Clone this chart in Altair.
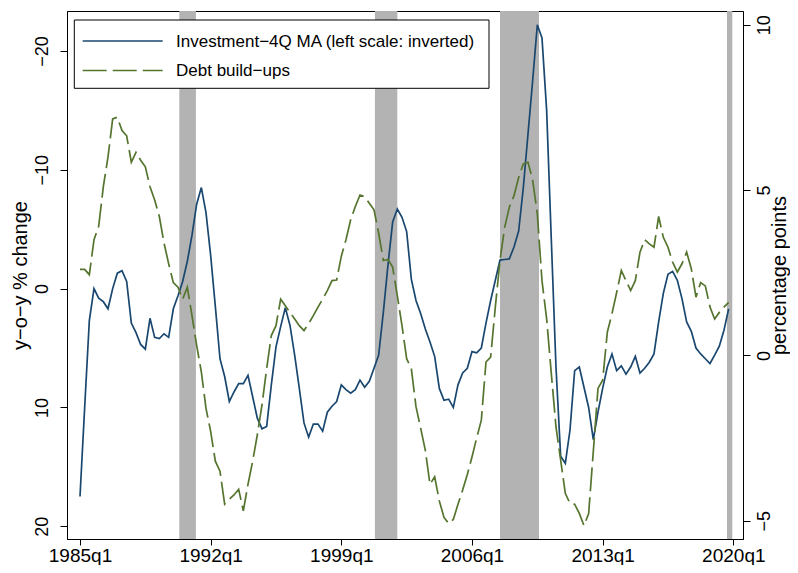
import altair as alt
import pandas as pd

# ---- data (quarterly, 1985q1 .. 2019q4) ----
start_year = 1985
investment_4q_ma = [
    17.5, 10.0, 2.7, 0.0, 0.8, 1.1, 1.7, 0.0, -1.3, -1.5,
    -0.6, 2.9, 3.7, 4.7, 5.1, 2.5, 4.1, 4.2, 3.8, 4.1,
    1.7, 0.6, -0.6, -2.3, -4.5, -7.1, -8.5, -6.4, -2.8, 1.5,
    5.9, 7.4, 9.5, 8.7, 8.0, 8.0, 7.3, 9.1, 10.9, 11.8,
    11.6, 8.1, 4.9, 3.2, 1.6, 3.1, 5.6, 8.4, 11.3, 12.5,
    11.4, 11.4, 12.0, 10.4, 9.9, 9.5, 8.1, 8.5, 8.8, 8.5,
    7.7, 8.3, 7.8, 6.7, 5.6, 2.0, -2.0, -5.6, -6.7, -6.0,
    -4.8, -0.8, 1.0, 2.1, 3.4, 4.5, 5.7, 8.4, 9.4, 9.3,
    10.0, 8.1, 7.1, 6.7, 5.3, 5.4, 5.0, 2.9, 1.0, -0.7,
    -2.4, -2.45, -2.5, -3.5, -4.85, -8.5, -13.0, -17.5, -22.2, -21.1,
    -15.0, -4.1, 6.6, 14.1, 14.7, 11.9, 6.9, 6.6, 8.3, 10.0,
    12.7, 10.4, 8.4, 6.6, 5.5, 6.9, 6.5, 7.2, 6.6, 5.7,
    7.1, 6.7, 6.2, 5.5, 2.8, 0.4, -1.2, -1.45, -0.7, 0.84,
    2.8, 3.6, 5.0, 5.5, 5.9, 6.3, 5.6, 4.85, 3.5, 1.7,
]
debt_buildups = [
    2.6, 2.6, 2.44, 3.5, 3.9, 5.1, 6.0, 7.15, 7.2, 6.8,
    6.64, 5.84, 6.14, 5.9, 5.7, 5.1, 4.7, 4.2, 3.4, 2.77,
    2.2, 2.06, 1.7, 2.06, 1.2, 0.3, -0.5, -1.6, -2.3, -3.2,
    -3.5, -4.5, -4.35, -4.22, -4.05, -4.7, -3.9, -3.2, -2.4, -1.5,
    -0.4, 0.6, 0.9, 1.7, 1.5, 1.3, 1.1, 0.9, 0.75, 0.96,
    1.2, 1.46, 1.7, 1.96, 2.26, 2.28, 3.0, 3.5, 4.1, 4.5,
    4.85, 4.8, 4.6, 4.4, 3.7, 2.87, 2.9, 2.67, 1.8, 0.9,
    -0.1, -0.4, -1.55, -2.2, -2.87, -3.9, -3.67, -4.4, -4.9, -5.08,
    -4.96, -4.5, -4.07, -3.6, -3.07, -2.5, -1.96, -0.2, -0.05, 1.46,
    2.87, 3.87, 4.48, 4.83, 5.38, 5.79, 5.84, 5.3, 4.28, 2.26,
    1.1, -0.55, -2.16, -3.17, -4.17, -4.48, -4.5, -4.78, -5.15, -4.78,
    -2.9, -1.0, -0.75, 0.7, 1.26, 1.9, 2.57, 2.26, 1.96, 2.26,
    3.12, 3.5, 3.37, 3.27, 4.2, 3.57, 3.27, 2.82, 2.52, 2.77,
    3.12, 2.62, 1.76, 2.2, 2.1, 1.46, 1.1, 1.3, 1.46, 1.6,
]
recession_start = [1990.32, 2000.80, 2007.50, 2019.66]
recession_end = [1991.21, 2002.00, 2009.59, 2019.945]
x_tick_years = [1985, 1992, 1999, 2006, 2013, 2020]
left_ticks = [-20, -10, 0, 10, 20]
right_ticks = [-5, 0, 5, 10]

INV = "Investment\u22124Q MA (left scale: inverted)"
DEBT = "Debt build\u2212ups"

BLUE = "#1a476f"
GREEN = "#55752f"
GREY = "#b3b3b3"
FONT = "Liberation Sans"

t = [start_year + i / 4 for i in range(len(investment_4q_ma))]
inv_df = pd.DataFrame({"t": t, "value": investment_4q_ma})
debt_df = pd.DataFrame({"t": t[: len(debt_buildups)], "value": debt_buildups})
rec_df = pd.DataFrame({"start": recession_start, "end": recession_end})
one = pd.DataFrame({"k": [0]})

W, H = 676, 528

xscale = alt.Scale(domain=[1984.3036, 2020.519], nice=False, zero=False)
xaxis = alt.Axis(
    values=x_tick_years,
    labelExpr="datum.value + 'q1'",
    tickSize=6,
    labelFontSize=19,
    labelPadding=1,
    labelFlush=False,
    labelOverlap=False,
    grid=False,
    title=None,
)

bars = alt.Chart(rec_df).mark_rect(color=GREY).encode(
    x=alt.X("start:Q", scale=xscale, axis=xaxis),
    x2="end:Q",
)

inv_line = alt.Chart(inv_df).mark_line(color=BLUE, strokeWidth=1.7).encode(
    x=alt.X("t:Q", scale=xscale, axis=xaxis),
    y=alt.Y(
        "value:Q",
        scale=alt.Scale(domain=[-23.36, 21.07], reverse=True, nice=False, zero=False),
        axis=alt.Axis(
            orient="left",
            values=left_ticks,
            tickSize=7,
            labelAngle=270,
            labelAlign="center",
            labelBaseline="middle",
            labelPadding=18,
            labelFontSize=18,
            labelFlush=False,
            grid=False,
            title="y\u2212o\u2212y % change",
            titleAngle=270,
            titleX=-46.5,
            titleY=H / 2,
            titleAlign="center",
            titleBaseline="middle",
            titleFontSize=20,
        ),
    ),
)

debt_line = alt.Chart(debt_df).mark_line(
    color=GREEN, strokeWidth=1.7, strokeDash=[24, 6]
).encode(
    x=alt.X("t:Q", scale=xscale, axis=xaxis),
    y=alt.Y(
        "value:Q",
        scale=alt.Scale(domain=[-5.552, 10.413], nice=False, zero=False),
        axis=alt.Axis(
            orient="right",
            values=right_ticks,
            tickSize=7,
            labelAngle=270,
            labelAlign="center",
            labelBaseline="middle",
            labelPadding=14,
            labelFontSize=18,
            labelFlush=False,
            grid=False,
            title="percentage points",
            titleAngle=270,
            titleX=36.5,
            titleY=H / 2,
            titleAlign="center",
            titleBaseline="middle",
            titleFontSize=20,
        ),
    ),
)

# legend box (drawn inside the plot, top-left)
leg_box = alt.Chart(one).mark_rect(
    fill="white", stroke="black", strokeWidth=1
).encode(x=alt.value(7.3), x2=alt.value(422), y=alt.value(9), y2=alt.value(77.3))
leg_inv = alt.Chart(one).mark_rule(color=BLUE, strokeWidth=1.7).encode(
    x=alt.value(15.7), x2=alt.value(95.7), y=alt.value(30)
)
leg_debt = alt.Chart(one).mark_rule(
    color=GREEN, strokeWidth=1.7, strokeDash=[24, 6]
).encode(x=alt.value(15.7), x2=alt.value(95.7), y=alt.value(59.5))
leg_t1 = alt.Chart(one).mark_text(
    align="left", baseline="middle", fontSize=17, font=FONT, color="black"
).encode(x=alt.value(109), y=alt.value(30.5), text=alt.value(INV))
leg_t2 = alt.Chart(one).mark_text(
    align="left", baseline="middle", fontSize=17, font=FONT, color="black"
).encode(x=alt.value(109), y=alt.value(60), text=alt.value(DEBT))

chart = (
    alt.layer(bars, inv_line, debt_line, leg_box, leg_inv, leg_debt, leg_t1, leg_t2)
    .resolve_scale(y="independent")
    .properties(
        width=W,
        height=H,
        padding={"left": 59, "top": 3, "right": 47, "bottom": 26},
        autosize=alt.AutoSizeParams(type="none"),
        background="white",
    )
    .configure_view(stroke="black", strokeWidth=1)
    .configure_axis(
        domainColor="black",
        tickColor="black",
        labelColor="black",
        titleColor="black",
        labelFont=FONT,
        titleFont=FONT,
        titleFontWeight="normal",
        domainWidth=1,
        tickWidth=1,
    )
)

chart.save("out.html", embed_options={"renderer": "svg", "actions": False})
